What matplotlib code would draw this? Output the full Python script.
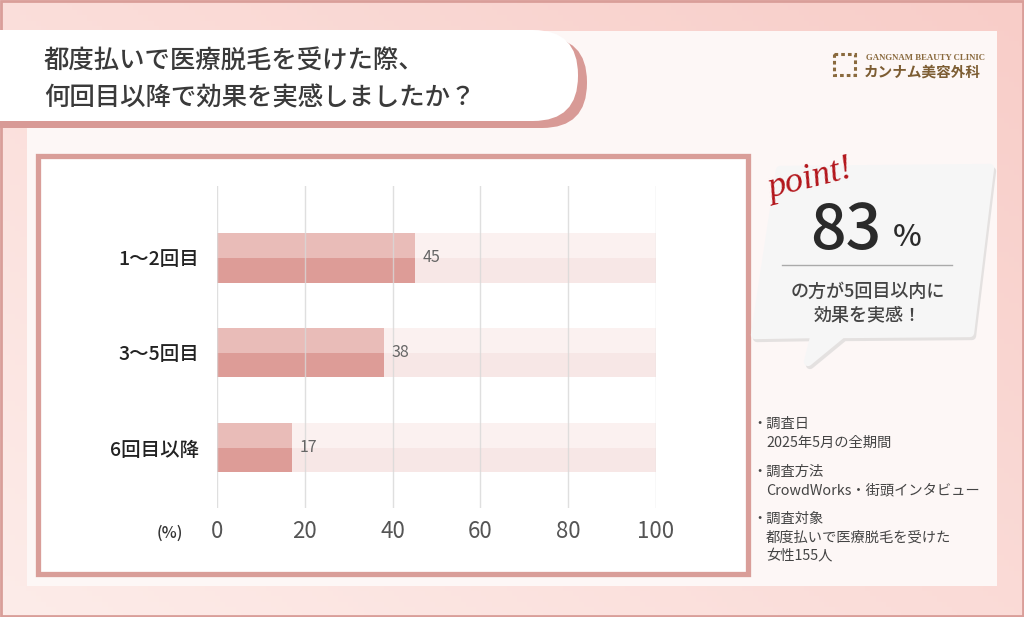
import numpy as np
import matplotlib
matplotlib.use("Agg")
import matplotlib.pyplot as plt
from matplotlib.patches import FancyBboxPatch, Rectangle, Polygon

plt.rcParams['font.family'] = ['Noto Sans CJK JP', 'DejaVu Sans']

# data
categories = ['1～2回目', '3～5回目', '6回目以降']
values = [45, 38, 17]
ticks = [0, 20, 40, 60, 80, 100]
title_lines = ['都度払いで医療脱毛を受けた際、', '何回目以降で効果を実感しましたか？']
point_value = '83'
point_lines = ['の方が5回目以内に', '効果を実感！']
notes = [('・調査日', ['2025年5月の全期間']),
         ('・調査方法', ['CrowdWorks・街頭インタビュー']),
         ('・調査対象', ['都度払いで医療脱毛を受けた', '女性155人'])]

W, H = 1024, 617
fig = plt.figure(figsize=(W / 100, H / 100), dpi=100)

# background canvas in pixel coordinates
bg = fig.add_axes([0, 0, 1, 1])
bg.set_xlim(0, W)
bg.set_ylim(H, 0)
bg.axis('off')

yy, xx = np.mgrid[0:1:120j, 0:1:200j]
t = np.clip(0.55 * xx + 0.45 * (1 - yy), 0, 1)
c1 = np.array([253, 236, 233]) / 255
c2 = np.array([248, 205, 200]) / 255
grad = c1 + (c2 - c1) * t[..., None]
bg.imshow(grad, extent=(0, W, H, 0), aspect='auto', zorder=0)
bg.add_patch(Rectangle((1, 1), W - 2, H - 2, fill=False, ec='#d99e99', lw=2, zorder=1))

# inner panel
bg.add_patch(Rectangle((27, 31), 970, 555, fc='#fdf7f6', ec='none', zorder=1))

# title box
bg.add_patch(FancyBboxPatch((-80, 37), 667, 91, boxstyle='round,pad=0,rounding_size=45',
                            fc='#d89a96', ec='none', zorder=2))
bg.add_patch(FancyBboxPatch((-80, 30), 658, 91, boxstyle='round,pad=0,rounding_size=45',
                            fc='white', ec='none', zorder=3))
for i, line in enumerate(title_lines):
    bg.text(44, 62 + i * 36, line, fontsize=18.3, color='#3a3a3a', weight='medium',
            va='center', ha='left', zorder=4)

# chart frame
bg.add_patch(Rectangle((38, 156), 710, 418, fc='white', ec='#d99e99', lw=3.8, zorder=2))

# logo
bg.add_patch(Rectangle((834, 54), 21, 21, fill=False, ec='#8a6a3e', lw=2.2,
                       ls=(0, (1.2, 1.0)), zorder=4))
bg.text(866, 58, 'GANGNAM BEAUTY CLINIC', fontsize=6.3, family='Liberation Serif',
        weight='bold', color='#8a6a3e', va='center', ha='left', zorder=4)
bg.text(864, 72, 'カンナム美容外科', fontsize=10.5, color='#7d5d33', weight='bold',
        va='center', ha='left', zorder=4)

# speech bubble
bubble = [(780, 170), (990, 168), (970, 333), (842, 334), (808, 362), (815, 334), (755, 335)]
shadow = [(x + 2, y + 3) for x, y in bubble]
bg.add_patch(Polygon(shadow, closed=True, fc='#cccccc', ec='#cccccc', lw=6,
                     joinstyle='round', alpha=0.5, zorder=3))
bg.add_patch(Polygon(bubble, closed=True, fc='#f6f6f6', ec='#f6f6f6', lw=6,
                     joinstyle='round', zorder=4))
bg.text(810, 180, 'point!', fontsize=26, family='Liberation Serif', style='italic',
        color='#b3161c', rotation=14, va='center', ha='center', zorder=5)
bg.text(846, 231, point_value, fontsize=45, color='#2a2a2a', weight='medium',
        va='center', ha='center', zorder=5)
bg.text(907, 238, '%', fontsize=22, color='#2a2a2a', weight='medium',
        va='center', ha='center', zorder=5)
bg.plot([782, 952], [265, 265], color='#aaaaaa', lw=1, zorder=5)
for i, line in enumerate(point_lines):
    bg.text(868, 292 + i * 24, line, fontsize=13, color='#444444', weight='medium',
            va='center', ha='center', zorder=5)

# survey notes
y = 424
for head, body in notes:
    bg.text(752, y, head, fontsize=10.3, color='#444444', va='center', ha='left', zorder=4)
    for line in body:
        y += 18.5
        bg.text(766, y, line, fontsize=10.3, color='#444444', va='center', ha='left', zorder=4)
    y += 29

bg.text(170, 533, '(%)', fontsize=11.5, color='#333333', weight='medium',
        va='center', ha='center', zorder=4)

# bar chart
x0, x1 = 217, 656
ytop, ybot = 186, 508
ax = fig.add_axes([x0 / W, 1 - ybot / H, (x1 - x0) / W, (ybot - ytop) / H])
ax.set_facecolor('none')
pos = np.arange(len(categories))
h = 0.516
ax.barh(pos - h / 4, [100] * len(pos), height=h / 2, color='#fbf1f0', zorder=1)
ax.barh(pos + h / 4, [100] * len(pos), height=h / 2, color='#f7e7e6', zorder=1)
ax.barh(pos - h / 4, values, height=h / 2, color='#e9bcb8', zorder=2)
ax.barh(pos + h / 4, values, height=h / 2, color='#dd9c97', zorder=2)
for p, v in zip(pos, values):
    ax.text(v + 1.8, p, str(v), fontsize=11.5, color='#666666', va='center', ha='left', zorder=4)
for tk in ticks:
    ax.axvline(tk, color='#d8d8d8', lw=1, alpha=0.8, zorder=3)
ax.set_xlim(0, 100)
ax.set_ylim(2.632, -0.758)
ax.set_xticks(ticks)
ax.set_xticklabels([str(t) for t in ticks], fontsize=16, color='#555555')
ax.set_yticks(pos)
ax.set_yticklabels(categories, fontsize=14, color='#222222', weight='medium')
ax.tick_params(length=0)
ax.tick_params(axis='x', pad=9)
ax.tick_params(axis='y', pad=13)
for s in ax.spines.values():
    s.set_visible(False)

fig.savefig('out.png', dpi=100)
